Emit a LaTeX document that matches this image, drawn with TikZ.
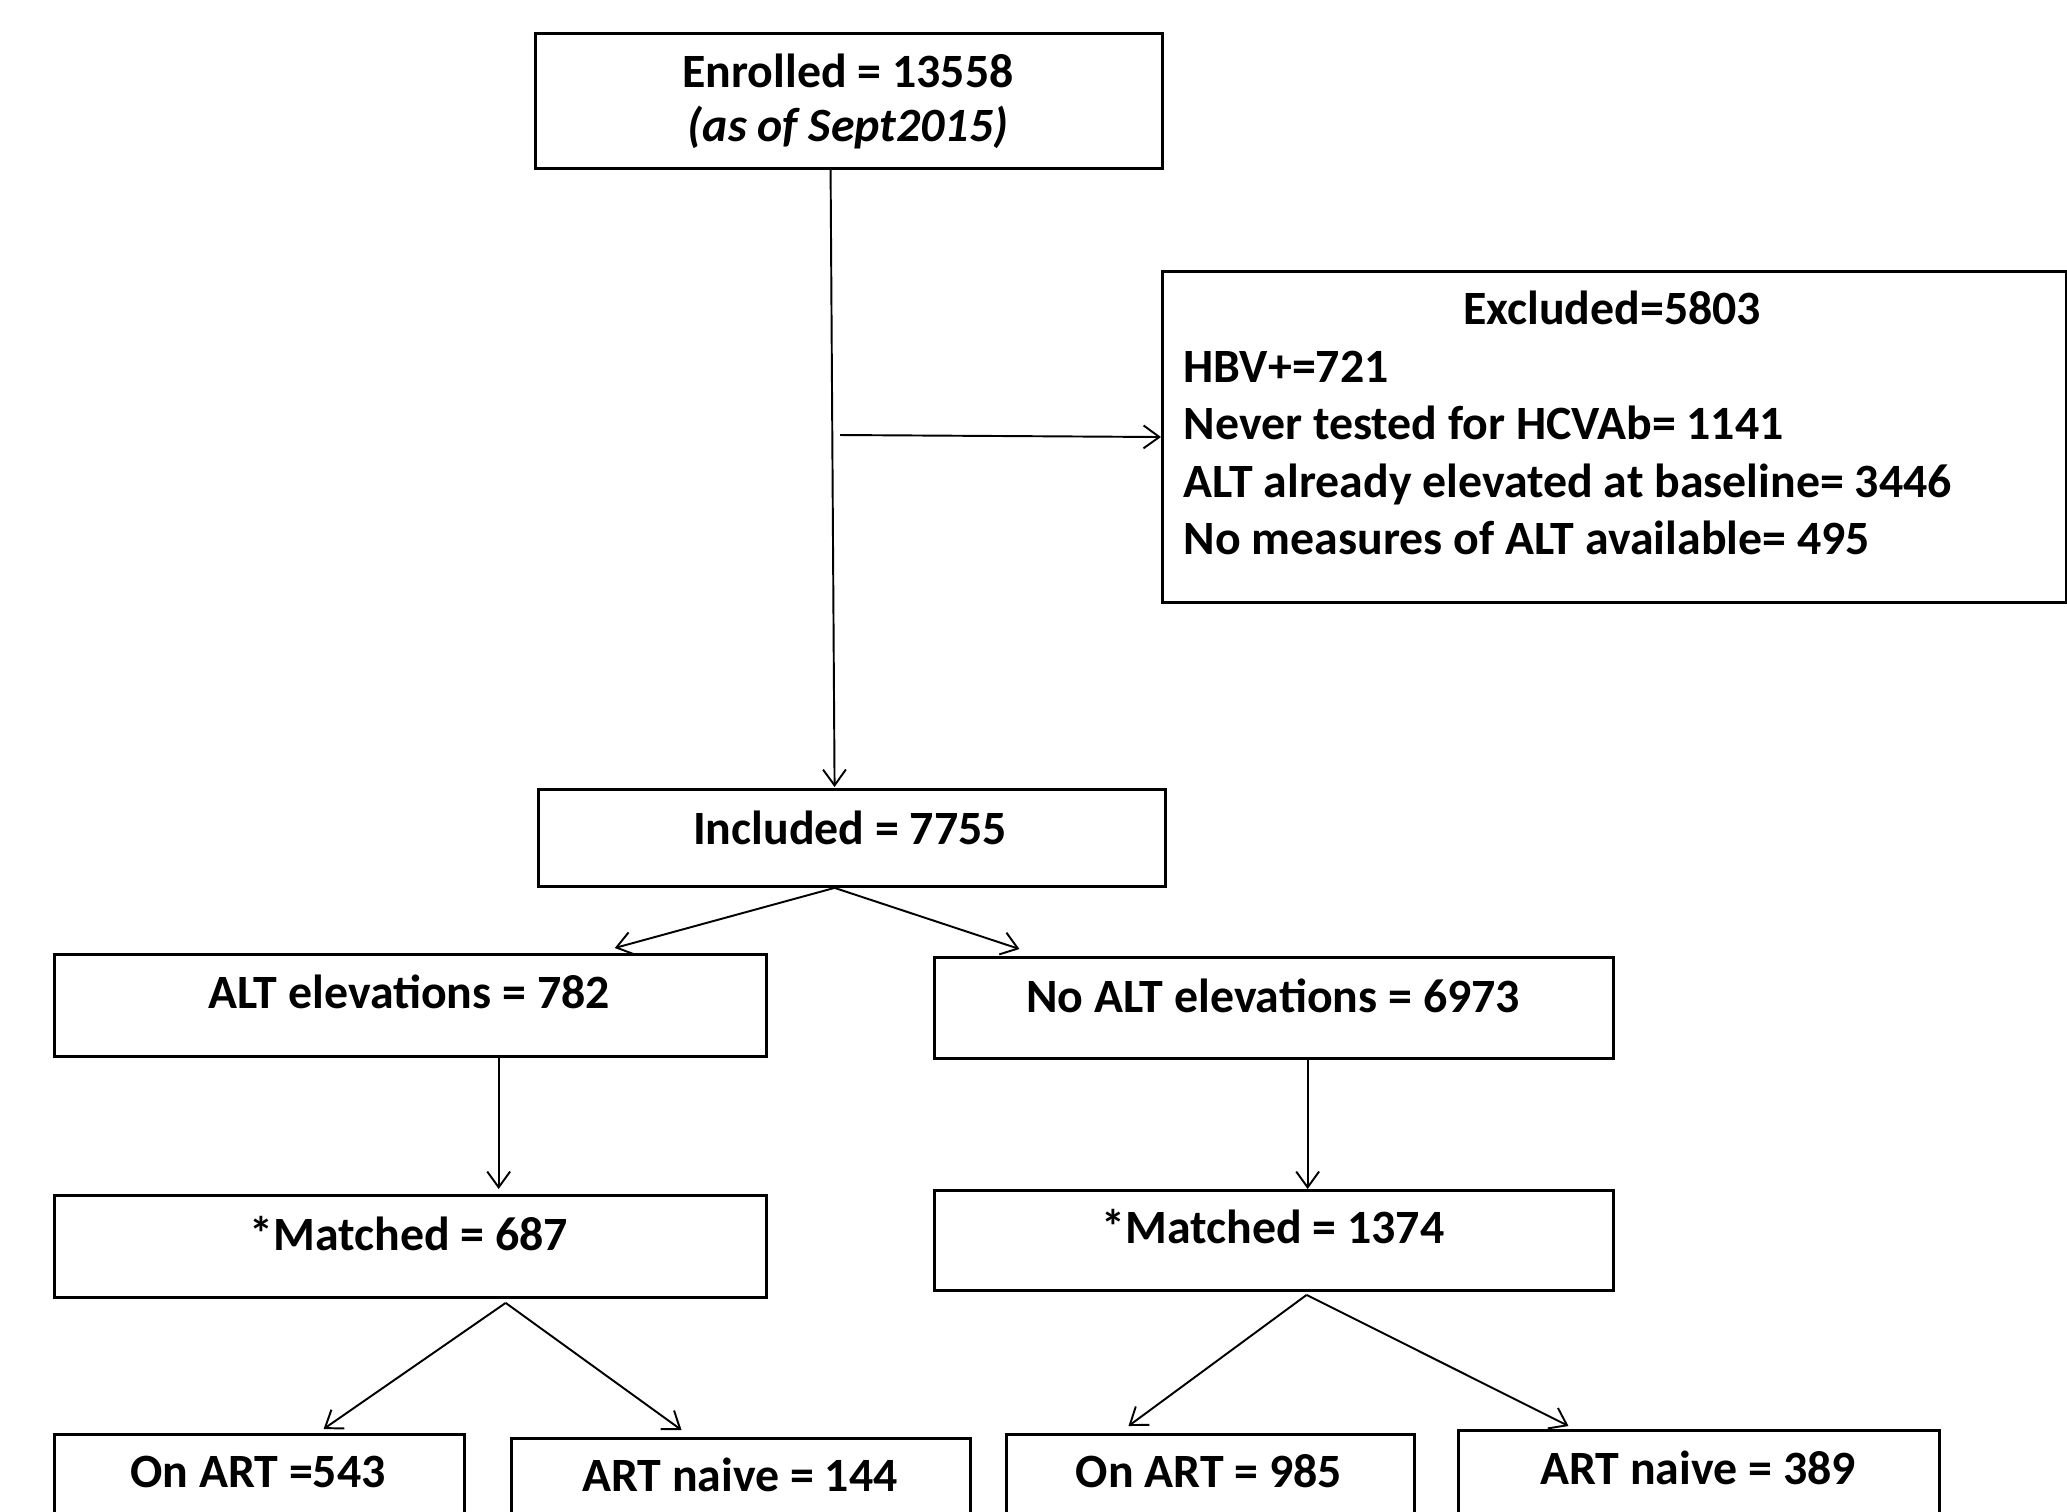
\documentclass[tikz,border=0pt]{standalone}
\usepackage{fontspec}
\setmainfont{Carlito}
\usetikzlibrary{arrows.meta}
\begin{document}
\begin{tikzpicture}[x=0.01cm,y=-0.01cm,
  box/.style={draw,line width=0.8pt,inner sep=0pt,anchor=north west},
  txt/.style={font=\fontsize{13.6}{16.4}\selectfont\bfseries,inner sep=0pt,anchor=base},
  ltxt/.style={txt,anchor=base west},
  conn/.style={line width=0.55pt,-{Straight Barb[length=4.5pt,width=6.5pt]}}]
\useasboundingbox (0,0) rectangle (2067,1511);
\clip (0,0) rectangle (2067,1511);
% boxes
\node[box,minimum width=6.27cm,minimum height=1.35cm] (enr) at (534,32) {};
\node[box,minimum width=9.03cm,minimum height=3.31cm] (exc) at (1161,270) {};
\node[box,minimum width=6.27cm,minimum height=0.97cm] (inc) at (537,788) {};
\node[box,minimum width=7.12cm,minimum height=1.02cm] (alte) at (53,953) {};
\node[box,minimum width=6.79cm,minimum height=1.01cm] (noe) at (933,956) {};
\node[box,minimum width=7.12cm,minimum height=1.02cm] (ma) at (53,1194) {};
\node[box,minimum width=6.79cm,minimum height=1.00cm] (mb) at (933,1189) {};
\node[box,minimum width=4.10cm,minimum height=2.2cm] (b1) at (53,1433) {};
\node[box,minimum width=4.59cm,minimum height=2.2cm] (b2) at (510,1437) {};
\node[box,minimum width=4.08cm,minimum height=2.2cm] (b3) at (1005,1433) {};
\node[box,minimum width=4.81cm,minimum height=2.2cm] (b4) at (1457,1429) {};
% texts
\node[txt] (t1) at (848,87) {Enrolled = 13558};
\node[txt] (t2) at (848,141) {\itshape (as of Sept2015)};
\node[txt] (t3) at (1612,324) {Excluded=5803};
\node[ltxt] (t4) at (1183,382) {HBV+=721};
\node[ltxt] (t5) at (1183,439) {Never tested for HCVAb= 1141};
\node[ltxt] (t6) at (1183,497) {ALT already elevated at baseline= 3446};
\node[ltxt] (t7) at (1183,554) {No measures of ALT available= 495};
\node[txt] (t8) at (850,844) {Included = 7755};
\node[txt] (t9) at (409,1008) {ALT elevations = 782};
\node[txt] (t10) at (1273,1012) {No ALT elevations = 6973};
\node[txt] (t11) at (409,1250) {*Matched = 687};
\node[txt] (t12) at (1273,1243) {*Matched = 1374};
\node[txt] (t13) at (258,1487) {On ART =543};
\node[txt] (t14) at (740,1491) {ART naive = 144};
\node[txt] (t15) at (1209,1487) {On ART = 985};
\node[txt] (t16) at (1698,1484) {ART naive = 389};
% connectors
\coordinate (hs) at (840,435);
\draw[conn] ([xshift=-0.185cm]enr.south) -- ([xshift=-0.175cm,yshift=0.01cm]inc.north);
\draw[conn] (hs) -- (exc.west);
\draw[conn] ([xshift=-0.175cm]inc.south) -- ([xshift=2.04cm,yshift=0.05cm]alte.north);
\draw[conn] ([xshift=-0.175cm]inc.south) -- ([xshift=-2.545cm,yshift=0.07cm]noe.north);
\draw[conn] ([xshift=0.88cm]alte.south) -- ([xshift=0.88cm,yshift=0.05cm]ma.north);
\draw[conn] ([xshift=0.335cm]noe.south) -- ([xshift=0.335cm]mb.north);
\draw[conn] ([xshift=0.95cm,yshift=-0.04cm]ma.south) -- ([xshift=0.64cm,yshift=0.04cm]b1.north);
\draw[conn] ([xshift=0.95cm,yshift=-0.04cm]ma.south) -- ([xshift=-0.595cm,yshift=0.07cm]b2.north);
\draw[conn] ([xshift=0.325cm,yshift=-0.03cm]mb.south) -- ([xshift=-0.82cm,yshift=0.07cm]b3.north);
\draw[conn] ([xshift=0.325cm,yshift=-0.03cm]mb.south) -- ([xshift=-1.305cm,yshift=0.03cm]b4.north);
\end{tikzpicture}
\end{document}
